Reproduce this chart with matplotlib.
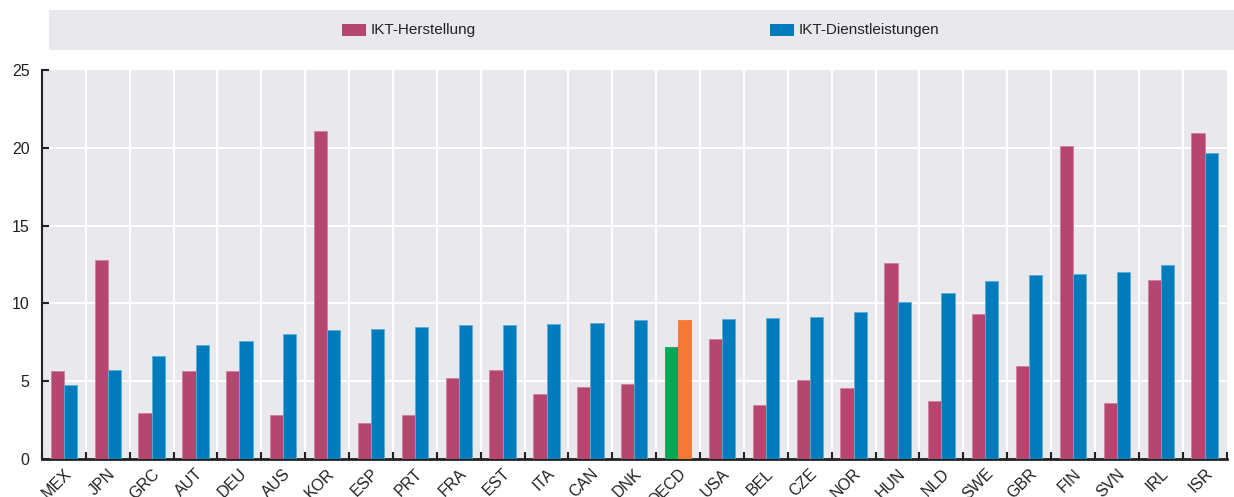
import matplotlib
matplotlib.use("Agg")
import matplotlib.pyplot as plt
import numpy as np
from matplotlib.patches import Rectangle

plt.rcParams['font.family'] = ['Liberation Sans', 'DejaVu Sans']

countries = ["MEX", "JPN", "GRC", "AUT", "DEU", "AUS", "KOR", "ESP", "PRT", "FRA",
             "EST", "ITA", "CAN", "DNK", "OECD", "USA", "BEL", "CZE", "NOR", "HUN",
             "NLD", "SWE", "GBR", "FIN", "SVN", "IRL", "ISR"]
herstellung = [5.66, 12.8, 2.96, 5.66, 5.66, 2.83, 21.1, 2.3, 2.83, 5.2,
               5.72, 4.18, 4.63, 4.82, 7.2, 7.71, 3.47, 5.08, 4.56, 12.6,
               3.73, 9.32, 5.98, 20.1, 3.6, 11.5, 20.95]
dienstleistungen = [4.76, 5.72, 6.6, 7.33, 7.58, 8.03, 8.29, 8.35, 8.48, 8.6,
                    8.6, 8.68, 8.74, 8.93, 8.93, 9.0, 9.06, 9.13, 9.45, 10.1,
                    10.67, 11.44, 11.83, 11.9, 12.0, 12.5, 19.67]
labels = ["IKT-Herstellung", "IKT-Dienstleistungen"]

RED = "#b5466f"
BLUE = "#007bbb"
GREEN = "#00aa55"
ORANGE = "#f47a33"
RED_E = "#cf7f9c"
BLUE_E = "#5aaed8"
BG = "#e9e9ed"

fig = plt.figure(figsize=(12.34, 4.97), dpi=100)
ax = fig.add_axes([0.034, 0.0765, 0.96, 0.7825])
ax.set_facecolor(BG)

x = np.arange(len(countries))
w = 0.3
c1 = [GREEN if c == "OECD" else RED for c in countries]
c2 = [ORANGE if c == "OECD" else BLUE for c in countries]
e1 = [GREEN if c == "OECD" else RED_E for c in countries]
e2 = [ORANGE if c == "OECD" else BLUE_E for c in countries]
ax.bar(x - w / 2, herstellung, w, color=c1, edgecolor=e1, linewidth=0.6, zorder=3, label=labels[0])
ax.bar(x + w / 2, dienstleistungen, w, color=c2, edgecolor=e2, linewidth=0.6, zorder=3, label=labels[1])

ax.set_xlim(-0.5, len(countries) - 0.5)
ax.set_ylim(0, 25)
ax.set_yticks([0, 5, 10, 15, 20, 25])
for yv in [5, 10, 15, 20]:
    ax.axhline(yv, color="white", lw=1.5, zorder=1)
for xv in np.arange(0.5, len(countries) - 0.5, 1):
    ax.axvline(xv, color="white", lw=1.5, zorder=1)

ax.set_xticks(x)
ax.set_xticklabels(countries, rotation=45, ha="right", rotation_mode="anchor",
                   fontsize=11.5, color="#222222")
ax.tick_params(axis="x", length=0, pad=5)
ax.set_xticks(np.arange(-0.5, len(countries), 1), minor=True)
ax.tick_params(axis="x", which="minor", direction="in", length=5, width=1.5, color="#222222")
ax.tick_params(axis="y", direction="in", length=5, width=1.5, color="#222222",
               labelsize=11.5, labelcolor="#222222", pad=9)

for s in ["top", "right"]:
    ax.spines[s].set_visible(False)
ax.spines["left"].set_linewidth(1.5)
ax.spines["bottom"].set_linewidth(2)
ax.spines["left"].set_color("#222222")
ax.spines["bottom"].set_color("#222222")

# legend band
fig.patches.append(Rectangle((49 / 1234, 1 - 50 / 497), 1185 / 1234, 40 / 497,
                             transform=fig.transFigure, facecolor=BG, edgecolor="none"))
ly = 1 - 30 / 497
for px, col, txt in [(342, RED, labels[0]), (770, BLUE, labels[1])]:
    fig.patches.append(Rectangle((px / 1234, ly - 6 / 497), 24 / 1234, 12 / 497,
                                 transform=fig.transFigure, facecolor=col, edgecolor="none"))
    fig.text((px + 29) / 1234, ly, txt, fontsize=11, va="center", ha="left", color="#222222")

fig.savefig("out.png", dpi=100)
